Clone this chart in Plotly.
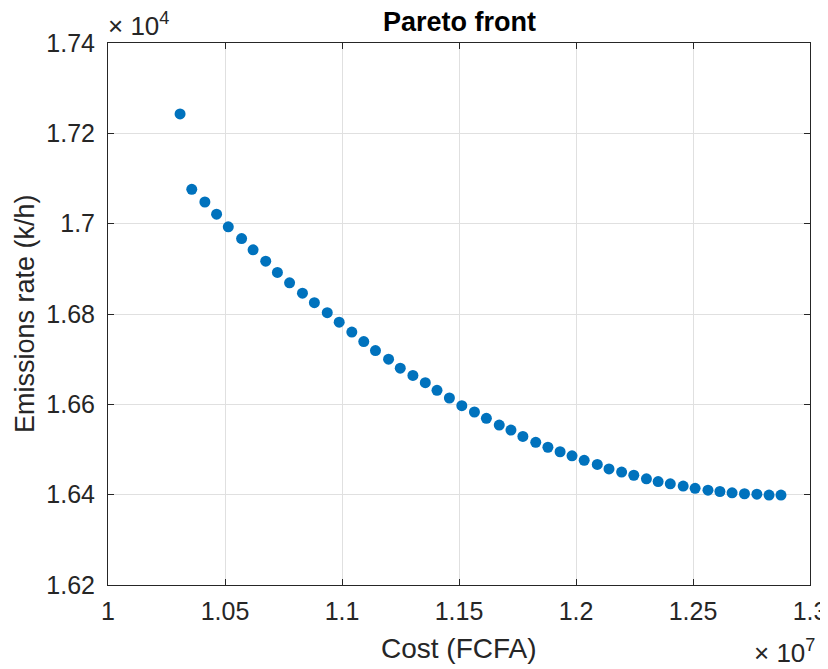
import plotly.graph_objects as go

# Pareto front data (cost in FCFA, emissions in k/h)
cost = [1.0308e7, 1.0358e7, 1.0414e7, 1.0464e7, 1.0514e7, 1.0571e7, 1.0620e7, 1.0674e7,
        1.0724e7, 1.0776e7, 1.0831e7, 1.0882e7, 1.0937e7, 1.0988e7, 1.1042e7, 1.1093e7,
        1.1143e7, 1.1199e7, 1.1249e7, 1.1303e7, 1.1356e7, 1.1406e7, 1.1459e7, 1.1512e7,
        1.1566e7, 1.1617e7, 1.1672e7, 1.1722e7, 1.1773e7, 1.1828e7, 1.1880e7, 1.1932e7,
        1.1983e7, 1.2035e7, 1.2091e7, 1.2141e7, 1.2195e7, 1.2247e7, 1.2301e7, 1.2351e7,
        1.2403e7, 1.2458e7, 1.2509e7, 1.2564e7, 1.2615e7, 1.2667e7, 1.2720e7, 1.2773e7,
        1.2825e7, 1.2876e7]
emissions = [17243, 17076, 17048, 17021, 16993, 16967, 16942, 16917,
             16892, 16869, 16846, 16825, 16803, 16782, 16760, 16739,
             16719, 16700, 16680, 16664, 16648, 16631, 16614, 16597,
             16583, 16569, 16554, 16543, 16529, 16516, 16505, 16495,
             16486, 16476, 16467, 16457, 16450, 16443, 16435, 16429,
             16424, 16419, 16414, 16410, 16407, 16404, 16402, 16401,
             16399, 16399]

x_tickvals = [1.0e7, 1.05e7, 1.1e7, 1.15e7, 1.2e7, 1.25e7, 1.3e7]
x_ticktext = ["1", "1.05", "1.1", "1.15", "1.2", "1.25", "1.3"]
y_tickvals = [16200, 16400, 16600, 16800, 17000, 17200, 17400]
y_ticktext = ["1.62", "1.64", "1.66", "1.68", "1.7", "1.72", "1.74"]

FONT = "Liberation Sans, Arial, Helvetica, sans-serif"
AX = "#262626"
GRID = "#e0e0e0"
TICK_SIZE = 25
LABEL_SIZE = 28

fig = go.Figure()
fig.add_trace(go.Scatter(
    x=cost, y=emissions, mode="markers",
    marker=dict(color="#0072BD", size=11, line=dict(width=0)),
    showlegend=False,
))

axis_common = dict(
    showline=True, linecolor=AX, linewidth=1, mirror="ticks",
    ticks="inside", ticklen=6, tickcolor=AX, tickwidth=1,
    showgrid=True, gridcolor=GRID, gridwidth=1, zeroline=False,
    automargin=False,
    tickfont=dict(family=FONT, size=TICK_SIZE, color=AX),
)

fig.update_xaxes(
    range=[1.0e7, 1.3e7], tickmode="array", tickvals=x_tickvals, ticktext=x_ticktext,
    ticklabelstandoff=4,
    **axis_common,
)
fig.update_yaxes(
    range=[16200, 17400], tickmode="array", tickvals=y_tickvals, ticktext=y_ticktext,
    ticklabelstandoff=7,
    **axis_common,
)

# The page body adds an 8px offset, so the figure is 8px smaller on each axis.
fig.update_layout(
    width=820, height=661,
    margin=dict(l=100, r=18, t=35, b=84),
    plot_bgcolor="white", paper_bgcolor="white",
    annotations=[
        dict(text="<b>Pareto front</b>", xref="paper", yref="paper", x=0.5, y=1,
             xanchor="center", yanchor="middle", yshift=21, showarrow=False,
             font=dict(family=FONT, size=LABEL_SIZE - 1, color="black")),
        dict(text="Cost (FCFA)", xref="paper", yref="paper", x=0.5, y=0,
             xanchor="center", yanchor="middle", yshift=-63, showarrow=False,
             font=dict(family=FONT, size=LABEL_SIZE, color=AX)),
        dict(text="Emissions rate (k/h)", xref="paper", yref="paper", x=0, y=0.5,
             xanchor="center", yanchor="middle", xshift=-83, textangle=-90,
             showarrow=False, font=dict(family=FONT, size=LABEL_SIZE - 1, color=AX)),
        dict(text="× 10<sup>4</sup>", xref="paper", yref="paper", x=0, y=1,
             xanchor="left", yanchor="bottom", showarrow=False, yshift=0, xshift=-2,
             font=dict(family=FONT, size=TICK_SIZE + 1, color=AX)),
        dict(text="× 10<sup>7</sup>", xref="paper", yref="paper", x=1, y=0,
             xanchor="right", yanchor="middle", showarrow=False, yshift=-66, xshift=7,
             font=dict(family=FONT, size=TICK_SIZE + 1, color=AX)),
    ],
)

fig.write_html("out.html")
